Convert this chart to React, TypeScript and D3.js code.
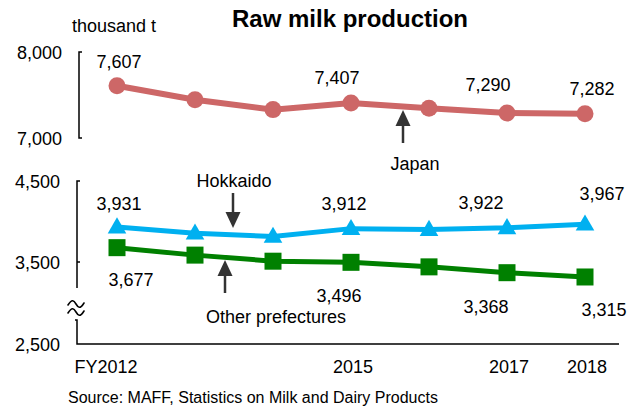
import React from "react";
import * as d3 from "d3";

const years = ["2012", "2013", "2014", "2015", "2016", "2017", "2018"];
const yearLabels = ["FY2012", "", "", "2015", "", "2017", "2018"];
const japan = [7607, 7445, 7330, 7407, 7345, 7290, 7282];
const hokkaido = [3931, 3855, 3815, 3912, 3900, 3922, 3967];
const others = [3677, 3585, 3510, 3496, 3440, 3368, 3315];
const japanShown = [true, false, false, true, false, true, true];
const hokShown = [true, false, false, true, false, true, true];
const othShown = [true, false, false, true, false, true, true];
const topTicks = [7000, 8000];
const botTicks = [3500, 4500];

// label layout offsets (dx, baseline dy) relative to each point
const japanOff: [number, number][] = [[2, -18], [0, 0], [0, 0], [-14, -19], [0, 0], [-19, -22], [7, -19]];
const hokOff: [number, number][] = [[2, -17], [0, 0], [0, 0], [-7, -19], [0, 0], [-26, -19], [17, -24]];
const othOff: [number, number][] = [[14, 38], [0, 0], [0, 0], [-12, 40], [0, 0], [-21, 40], [19, 39]];

const FONT = "'Liberation Sans', Arial, Helvetica, sans-serif";
const RED = "#cd6767";
const BLUE = "#00b0f0";
const GREEN = "#008000";
const ARROW = "#333333";
const fmt = d3.format(",");

function Arrow({ x, y1, y2 }: { x: number; y1: number; y2: number }) {
  // y1 = tail, y2 = tip
  const dir = y2 > y1 ? 1 : -1;
  const headLen = 16;
  const hw = 7.5;
  const baseY = y2 - dir * headLen;
  return (
    <g>
      <line x1={x} y1={y1} x2={x} y2={baseY} stroke={ARROW} strokeWidth={2.5} />
      <path d={`M${x},${y2} L${x - hw},${baseY} L${x + hw},${baseY} Z`} fill={ARROW} />
    </g>
  );
}

function Tilde({ cx, cy }: { cx: number; cy: number }) {
  const w = 8;
  const a = 3.5;
  const d = `M${cx - w},${cy + 1} C${cx - w / 2},${cy - a * 1.6} ${cx - w / 4},${cy - a} ${cx},${cy} S${cx + w / 2},${cy + a * 1.6} ${cx + w},${cy - 1}`;
  return <path d={d} fill="none" stroke="#000" strokeWidth={1.6} strokeLinecap="round" />;
}

export default function App() {
  const W = 637, H = 409;
  const x = d3.scalePoint<string>().domain(years).range([117, 585]);
  const yTop = d3.scaleLinear().domain([7000, 8000]).range([138, 52]);
  const yBot = d3.scaleLinear().domain([3500, 4500]).range([262, 181]);

  const lineTop = d3.line<number>().x((_, i) => x(years[i])!).y((d) => yTop(d));
  const lineBot = d3.line<number>().x((_, i) => x(years[i])!).y((d) => yBot(d));
  const tri = d3.symbol().type(d3.symbolTriangle).size(150);

  const axisX = 79;
  const axisXb = 77;
  const xEnd = 619;
  const y2500 = 344;

  return (
    <svg width={W} height={H} style={{ position: "absolute", left: 0, top: 0, background: "#fff" }} fontFamily={FONT}>
      <rect width={W} height={H} fill="#fff" />
      <text x={350} y={27} textAnchor="middle" fontSize={24} fontWeight="bold" fill="#000">Raw milk production</text>
      <text x={72} y={32} fontSize={18} fill="#000">thousand t</text>

      {/* top axis */}
      <path d={`M${axisX + 3},${yTop(8000)} H${axisX} V${yTop(7000)} H${axisX + 3}`} fill="none" stroke="#000" strokeWidth={1.5} />
      {topTicks.map((t) => (
        <text key={t} x={62} y={yTop(t) + 6.5} textAnchor="end" fontSize={18} fill="#000">{fmt(t)}</text>
      ))}

      {/* bottom axis */}
      <path d={`M${axisXb + 3},${yBot(4500)} H${axisXb} V288`} fill="none" stroke="#000" strokeWidth={1.5} />
      <line x1={axisXb} x2={axisXb + 3} y1={yBot(3500)} y2={yBot(3500)} stroke="#000" strokeWidth={1.5} />
      <path d={`M${axisXb - 2},320 H${axisXb} V${y2500} H${xEnd}`} fill="none" stroke="#000" strokeWidth={1.5} />
      <Tilde cx={76} cy={304} />
      <Tilde cx={76} cy={312} />
      {botTicks.map((t) => (
        <text key={t} x={60} y={yBot(t) + 6.5} textAnchor="end" fontSize={18} fill="#000">{fmt(t)}</text>
      ))}
      <text x={60} y={y2500 + 6.5} textAnchor="end" fontSize={18} fill="#000">{fmt(2500)}</text>

      {/* x labels */}
      {years.map((yr, i) =>
        yearLabels[i] ? (
          <text key={yr} x={i === 0 ? 106 : x(yr)! + 2} y={373} textAnchor="middle" fontSize={18} fill="#000">{yearLabels[i]}</text>
        ) : null
      )}

      {/* Japan */}
      <path d={lineTop(japan)!} fill="none" stroke={RED} strokeWidth={6} />
      {japan.map((v, i) => (
        <circle key={i} cx={x(years[i])} cy={yTop(v)} r={8.5} fill={RED} />
      ))}
      {japan.map((v, i) =>
        japanShown[i] ? (
          <text key={i} x={x(years[i])! + japanOff[i][0]} y={yTop(v) + japanOff[i][1]} textAnchor="middle" fontSize={18} fill="#000">{fmt(v)}</text>
        ) : null
      )}

      {/* Hokkaido */}
      <path d={lineBot(hokkaido)!} fill="none" stroke={BLUE} strokeWidth={5} />
      {hokkaido.map((v, i) => (
        <path key={i} d={tri()!} transform={`translate(${x(years[i])},${yBot(v) + 1})`} fill={BLUE} />
      ))}
      {hokkaido.map((v, i) =>
        hokShown[i] ? (
          <text key={i} x={x(years[i])! + hokOff[i][0]} y={yBot(v) + hokOff[i][1]} textAnchor="middle" fontSize={18} fill="#000">{fmt(v)}</text>
        ) : null
      )}

      {/* Other prefectures */}
      <path d={lineBot(others)!} fill="none" stroke={GREEN} strokeWidth={5} />
      {others.map((v, i) => (
        <rect key={i} x={x(years[i])! - 8.5} y={yBot(v) - 8.5} width={17} height={17} fill={GREEN} />
      ))}
      {others.map((v, i) =>
        othShown[i] ? (
          <text key={i} x={x(years[i])! + othOff[i][0]} y={yBot(v) + othOff[i][1]} textAnchor="middle" fontSize={18} fill="#000">{fmt(v)}</text>
        ) : null
      )}

      {/* annotations */}
      <Arrow x={403} y1={143} y2={110} />
      <text x={415} y={170} textAnchor="middle" fontSize={18} fill="#000">Japan</text>
      <Arrow x={233} y1={193} y2={228} />
      <text x={234} y={187} textAnchor="middle" fontSize={18} fill="#000">Hokkaido</text>
      <Arrow x={225} y1={293} y2={260} />
      <text x={276} y={323} textAnchor="middle" fontSize={18} fill="#000">Other prefectures</text>

      <text x={68} y={403} fontSize={16} fill="#000">Source: MAFF, Statistics on Milk and Dairy Products</text>
    </svg>
  );
}
